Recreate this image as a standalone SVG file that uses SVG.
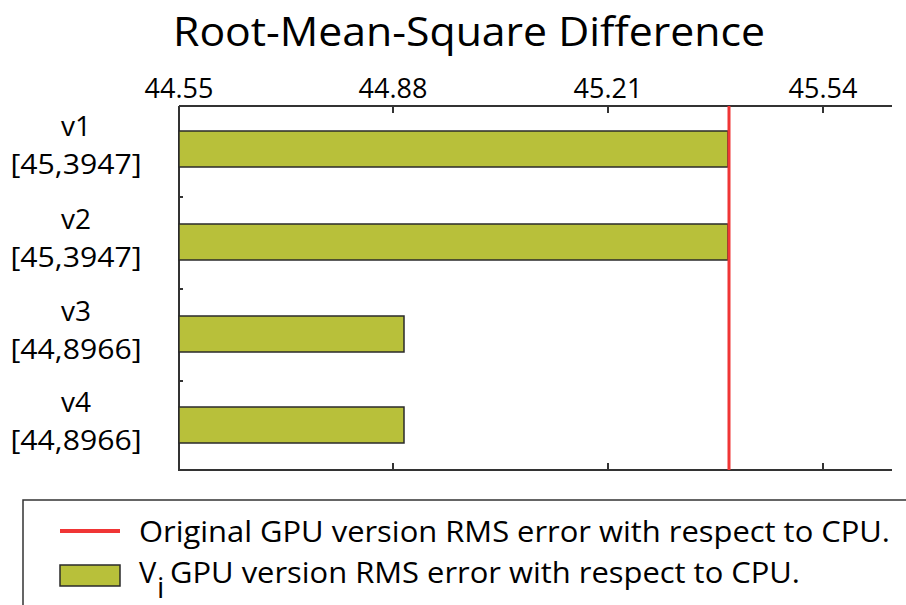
<svg xmlns="http://www.w3.org/2000/svg" width="906" height="605" viewBox="0 0 906 605">
<style>
text{font-family:"Open Sans","Liberation Sans",sans-serif;fill:#000}
.t{font-size:40px}
.tick{font-size:27px;text-anchor:middle}
.cat{font-size:28px;text-anchor:middle}
.leg{font-size:29px}
.bar{fill:#b8c03a;stroke:#2a2a2a;stroke-width:1.5}
.ax{stroke:#333;stroke-width:2;fill:none}
</style>
<rect width="906" height="605" fill="#fff"/>
<text class="t" x="469" y="46" text-anchor="middle" textLength="592" lengthAdjust="spacingAndGlyphs">Root-Mean-Square Difference</text>
<g id="xticks">
<text class="tick" x="179" y="98">44.55</text>
<text class="tick" x="393" y="98">44.88</text>
<text class="tick" x="608" y="98">45.21</text>
<text class="tick" x="823" y="98">45.54</text>
</g>
<g id="axes">
<path class="ax" d="M179,106 H892 M179,106 V470 H892"/>
<path class="ax" d="M393,106 v7 M608,106 v7 M823,106 v7 M393,470 v-7 M608,470 v-7 M823,470 v-7 M179,197 h4 M179,289 h4 M179,381 h4"/>
</g>
<g id="v1"><rect class="bar" x="179" y="131" width="549" height="36"/><text class="cat" x="76" y="136">v1</text><text class="cat" x="76" y="174" textLength="131" lengthAdjust="spacingAndGlyphs">[45,3947]</text></g>
<g id="v2"><rect class="bar" x="179" y="224" width="549" height="36"/><text class="cat" x="76" y="229">v2</text><text class="cat" x="76" y="267" textLength="131" lengthAdjust="spacingAndGlyphs">[45,3947]</text></g>
<g id="v3"><rect class="bar" x="179" y="316" width="225" height="36"/><text class="cat" x="76" y="321">v3</text><text class="cat" x="76" y="359" textLength="131" lengthAdjust="spacingAndGlyphs">[44,8966]</text></g>
<g id="v4"><rect class="bar" x="179" y="407" width="225" height="36"/><text class="cat" x="76" y="412">v4</text><text class="cat" x="76" y="450" textLength="131" lengthAdjust="spacingAndGlyphs">[44,8966]</text></g>
<g id="ref"><line x1="729" y1="106" x2="729" y2="470" stroke="#f03535" stroke-width="3"/></g>
<g id="legend">
<path d="M23,605 V500 H906" fill="none" stroke="#333" stroke-width="1.5"/>
<line x1="60" y1="531" x2="120" y2="531" stroke="#f03535" stroke-width="4"/>
<text class="leg" x="139" y="542" textLength="751" lengthAdjust="spacingAndGlyphs">Original GPU version RMS error with respect to CPU.</text>
<rect class="bar" x="60" y="565" width="60" height="21"/>
<text class="leg" x="139" y="583">V</text>
<text class="leg" x="157" y="598" font-size="22">i</text>
<text class="leg" x="170" y="583" textLength="630" lengthAdjust="spacingAndGlyphs">GPU version RMS error with respect to CPU.</text>
</g>
</svg>
